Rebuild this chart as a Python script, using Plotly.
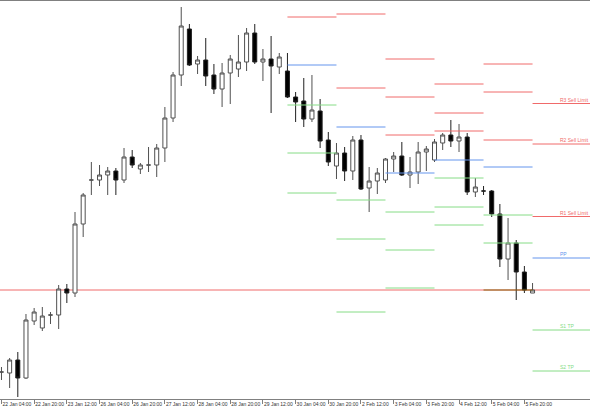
import plotly.graph_objects as go

# ---- data (prices in chart units) ----
tick_labels = ["22 Jan 04:00", "22 Jan 20:00", "23 Jan 12:00", "26 Jan 04:00", "26 Jan 20:00",
               "27 Jan 12:00", "28 Jan 04:00", "28 Jan 20:00", "29 Jan 12:00", "30 Jan 04:00",
               "30 Jan 20:00", "2 Feb 12:00", "3 Feb 04:00", "3 Feb 20:00", "4 Feb 12:00",
               "5 Feb 04:00", "5 Feb 20:00"]
tick_bars = [0, 4, 8, 12, 16, 20, 24, 28, 32, 36, 40, 44, 48, 52, 56, 60, 64]

opens = [28, 27, 40, 22, 79, 72, 85, 85, 111, 107, 176, 220, 220, 225, 229, 220, 243, 231, 235, 235,
         252, 282, 325, 371, 336, 340, 325, 311, 327, 331, 338, 367, 338, 341, 333, 329, 303, 299, 281, 289,
         260, 234, 247, 229, 260, 212, 219, 220, 241, 244, 225, 228, 248, 240, 257, 265, 259, 263, 208, 209,
         209, 186, 141, 157, 128, 107]
highs = [33, 42, 48, 86, 92, 93, 88, 115, 116, 188, 207, 238, 235, 233, 232, 252, 250, 237, 253, 256,
         293, 328, 393, 376, 344, 362, 336, 337, 345, 365, 372, 376, 351, 364, 347, 347, 308, 322, 325, 301,
         268, 257, 253, 264, 265, 233, 232, 242, 248, 258, 243, 258, 254, 261, 267, 280, 276, 267, 222, 214,
         210, 196, 182, 160, 134, 117]
lows = [20, 12, 3, 21, 75, 69, 76, 71, 97, 103, 163, 205, 214, 205, 205, 217, 232, 226, 228, 223,
        238, 278, 314, 334, 326, 314, 306, 293, 296, 323, 329, 336, 319, 287, 326, 302, 278, 273, 278, 252,
        234, 221, 219, 220, 210, 188, 206, 217, 228, 224, 212, 216, 229, 238, 250, 253, 248, 205, 203, 205,
        183, 133, 120, 100, 107, 107]
closes = [28, 40, 22, 80, 88, 84, 85, 111, 107, 176, 205, 220, 225, 229, 220, 243, 235, 235, 235, 252,
          282, 325, 374, 335, 340, 324, 311, 327, 341, 338, 367, 338, 341, 334, 343, 303, 298, 281, 290, 259,
          238, 247, 229, 260, 211, 219, 227, 241, 244, 225, 228, 248, 251, 258, 265, 259, 263, 208, 213, 209,
          186, 141, 157, 128, 110, 110]

# daily pivot levels (first bar of each day)
day_start_bar = [35, 41, 47, 53, 59, 65]
R3 = [None, None, 341, 316, 336, 296.5]
R2 = [None, 386, 303, 287, 308, 256]
R1 = [383, 312, 265, 269, 260, 183.5]
PP = [335, 273, 227, 240, 233, 142]
S1 = [295, 200, 188, 222, 185, 70]
S2 = [247, 161, 150, 193, 157, 29]
S3 = [207, 88, 112, 175, 110, None]
last_day_labels = {"R3": "R3 Sell Limit", "R2": "R2 Sell Limit", "R1": "R1 Sell Limit",
                   "PP": "PP", "S1": "S1 TP", "S2": "S2 TP"}
sr_line = 110

RED = "#f06a6a"
BLUE = "#6495ed"
GREEN = "#86dc86"
BROWN = "#8b6914"

n = len(opens)
x_left = -0.18
x_right = 72.03

fig = go.Figure()

day_end_bar = day_start_bar[1:] + [x_right + 1]
levels = [("R3", R3, RED), ("R2", R2, RED), ("R1", R1, RED), ("PP", PP, BLUE),
          ("S1", S1, GREEN), ("S2", S2, GREEN), ("S3", S3, GREEN)]
for name, vals, col in levels:
    xs, ys = [], []
    bx, by = [], []
    for s, e, v in zip(day_start_bar, day_end_bar, vals):
        if v is None:
            continue
        if name == "S3" and v == sr_line:
            bx += [s, e, None]
            by += [v, v, None]
        else:
            xs += [s, e, None]
            ys += [v, v, None]
    fig.add_trace(go.Scatter(x=xs, y=ys, mode="lines", line=dict(color=col, width=1),
                             hoverinfo="skip"))
    if bx:
        fig.add_trace(go.Scatter(x=bx, y=by, mode="lines", line=dict(color=BROWN, width=1),
                                 hoverinfo="skip"))

fig.add_hline(y=sr_line, line=dict(color=RED, width=1), layer="below")

fig.add_trace(go.Candlestick(
    x=list(range(n)), open=opens, high=highs, low=lows, close=closes,
    increasing=dict(line=dict(color="#505050", width=1), fillcolor="white"),
    decreasing=dict(line=dict(color="#202020", width=1), fillcolor="black"),
    whiskerwidth=0, hoverinfo="skip"))

# labels for the current day's levels
level_map = {"R3": (R3, RED), "R2": (R2, RED), "R1": (R1, RED), "PP": (PP, BLUE),
             "S1": (S1, GREEN), "S2": (S2, GREEN)}
for key, text in last_day_labels.items():
    vals, col = level_map[key]
    fig.add_annotation(x=559 / 590, xref="paper", y=vals[-1], yref="y", text=text,
                       showarrow=False, xanchor="left", yanchor="bottom",
                       font=dict(family="Liberation Sans, Arial", size=5, color=col),
                       borderpad=0, yshift=0)

fig.update_layout(
    width=590, height=410,
    margin=dict(l=0, r=0, t=1, b=11, autoexpand=False),
    plot_bgcolor="white", paper_bgcolor="white",
    showlegend=False,
    xaxis=dict(range=[x_left, x_right], showgrid=False, zeroline=False,
               showline=True, linecolor="#808080", linewidth=1, mirror=True,
               tickmode="array", tickvals=tick_bars, ticktext=tick_labels,
               ticks="outside", ticklen=4, tickcolor="#808080", tickangle=0,
               ticklabelposition="outside right", automargin=False,
               tickfont=dict(family="Liberation Sans, Arial", size=5, color="#333333"),
               rangeslider=dict(visible=False), fixedrange=True),
    yaxis=dict(range=[1, 399], showgrid=False, zeroline=False, showline=False,
               showticklabels=False, ticks="", fixedrange=True, automargin=False),
)

fig.write_html("out.html", config={"displayModeBar": False},
               post_script="document.body.style.margin='0';document.body.style.overflow='hidden';")
